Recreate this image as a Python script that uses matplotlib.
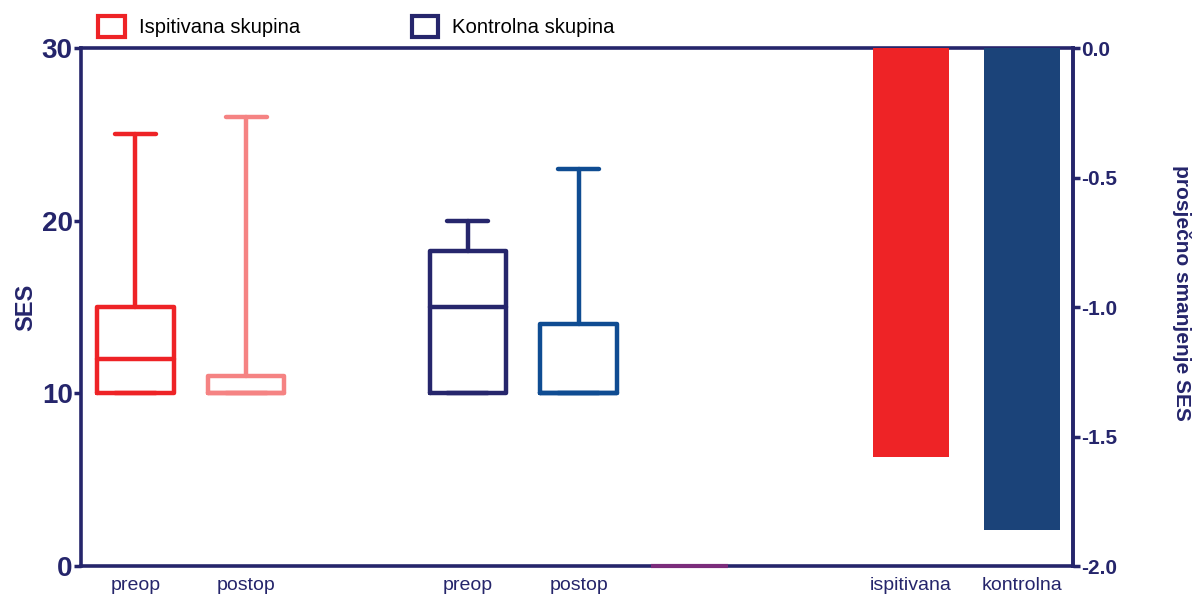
import matplotlib
matplotlib.use('Agg')
import matplotlib.pyplot as plt
from matplotlib.patches import Patch

# kategorije na x osi (prazna mjesta su razmaci)
categories = ['preop', 'postop', '', 'preop', 'postop', '', '', 'ispitivana', 'kontrolna']

# box plot podaci (SES)
box_pos = [0, 1, 3, 4]
box_min = [10, 10, 10, 10]
box_q1 = [10, 10, 10, 10]
box_med = [12, 10, 15, 10]
box_q3 = [15, 11, 18.25, 14]
box_max = [25, 26, 20, 23]
box_colors = ['#EE2326', '#F58383', '#26266C', '#0F4C92']

# prazna kategorija (crta na nuli)
zero_pos = [5]
zero_val = [0]

# prosjecno smanjenje SES (desna os)
bar_pos = [7, 8]
bar_vals = [-1.58, -1.86]
bar_colors = ['#EE2326', '#1B4379']

legend_labels = ['Ispitivana skupina', 'Kontrolna skupina']
legend_colors = ['#EE2326', '#26266C']

navy = '#25256B'

plt.rcParams['font.family'] = ['Liberation Sans', 'DejaVu Sans']

fig, ax = plt.subplots(figsize=(11.93, 5.95), dpi=100)
fig.subplots_adjust(left=0.0679, right=0.8994, top=0.9193, bottom=0.0487)

for i, p in enumerate(box_pos):
    c = box_colors[i]
    st = dict(whislo=box_min[i], q1=box_q1[i], med=box_med[i], q3=box_q3[i], whishi=box_max[i])
    lp = dict(color=c, lw=3.2, solid_joinstyle='round', solid_capstyle='round')
    ax.bxp([st], positions=[p], widths=0.69, capwidths=0.37, showfliers=False,
           boxprops=lp, whiskerprops=lp, capprops=lp, medianprops=lp)

ax.bar(zero_pos, zero_val, width=0.69, color='#7B2C7B', edgecolor='#7B2C7B', lw=3,
       zorder=5, clip_on=False)

ax.set_xlim(-0.49, 8.46)
ax.set_ylim(0, 30)
ax.set_yticks([0, 10, 20, 30])
ax.set_xticks(range(len(categories)), categories)

ax2 = ax.twinx()
ax2.bar(bar_pos, bar_vals, width=0.68, color=bar_colors)
ax2.set_ylim(-2, 0)
ax2.set_yticks([0, -0.5, -1.0, -1.5, -2.0])
ax2.set_yticklabels(['{:.1f}'.format(v) for v in [0, -0.5, -1.0, -1.5, -2.0]])

for a in (ax, ax2):
    for s in a.spines.values():
        s.set_color(navy)
        s.set_linewidth(2.6)
for s in ['left', 'top', 'bottom']:
    ax2.spines[s].set_visible(False)

ax.tick_params(axis='y', direction='out', length=5, width=2.5, colors=navy, labelsize=20, pad=1)
ax.tick_params(axis='x', length=0, colors=navy, labelsize=14, pad=8)
ax2.tick_params(axis='y', direction='out', length=5, width=2.5, colors=navy, labelsize=15, pad=1)
for lbl in ax.get_yticklabels() + ax2.get_yticklabels():
    lbl.set_fontweight('bold')

ax.set_ylabel('SES', fontsize=17, fontweight='bold', color=navy)
ax.yaxis.set_label_coords(-0.044, 0.5)
ax2.set_ylabel('prosječno smanjenje SES', fontsize=15, fontweight='bold', color=navy,
               rotation=-90, va='bottom')
ax2.yaxis.set_label_coords(1.1, 0.527)

handles = [Patch(facecolor='white', edgecolor=c, lw=3) for c in legend_colors]
fig.legend(handles, legend_labels, loc='upper left', bbox_to_anchor=(0.067, 1.003), ncol=2,
           frameon=False, fontsize=14.6,
           handlelength=1.3, handleheight=1.15, handletextpad=0.7, columnspacing=5.5)

plt.savefig('out.png', dpi=100)
